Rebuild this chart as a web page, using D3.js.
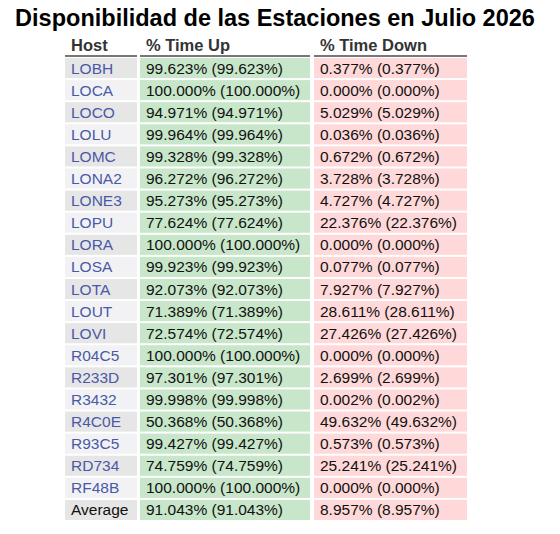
<!DOCTYPE html><html><head><meta charset="utf-8"><script src="https://cdn.jsdelivr.net/npm/d3@7"></script>
<style>body{margin:0;background:#fff}</style></head><body><svg id="c" width="560" height="534"></svg>
<script>
const hosts=["LOBH","LOCA","LOCO","LOLU","LOMC","LONA2","LONE3","LOPU","LORA","LOSA","LOTA","LOUT","LOVI","R04C5","R233D","R3432","R4C0E","R93C5","RD734","RF48B","Average"];
const up=[99.623,100.000,94.971,99.964,99.328,96.272,95.273,77.624,100.000,99.923,92.073,71.389,72.574,100.000,97.301,99.998,50.368,99.427,74.759,100.000,91.043];
const down=[0.377,0.000,5.029,0.036,0.672,3.728,4.727,22.376,0.000,0.077,7.927,28.611,27.426,0.000,2.699,0.002,49.632,0.573,25.241,0.000,8.957];
const headers=["Host","% Time Up","% Time Down"];
const svg=d3.select("#c");const F="Liberation Sans, Arial, sans-serif";
svg.append("text").attr("x",275).attr("y",26).attr("text-anchor","middle").attr("font-family",F).attr("font-weight","bold").attr("font-size",23.5).text("Disponibilidad de las Estaciones en Julio 2026");
const cols=[{x:65,w:72},{x:140,w:170},{x:314,w:153}];
const y=d3.scaleBand().domain(d3.range(hosts.length)).range([58,520]).paddingInner(0.09).paddingOuter(0);
headers.forEach((h,i)=>{svg.append("text").attr("x",cols[i].x+6).attr("y",51).attr("font-family",F).attr("font-weight","bold").attr("font-size",16.5).attr("fill","#333").text(h);
svg.append("rect").attr("x",cols[i].x).attr("y",55).attr("width",cols[i].w).attr("height",2).attr("fill","#777");});
const f=v=>v.toFixed(3)+"% ("+v.toFixed(3)+"%)";
hosts.forEach((h,r)=>{const yy=y(r),bh=y.bandwidth();const last=r===hosts.length-1;
const cells=[[h,r%2===0?"#e6e6e6":"#f2f2f5",last?"#111":"#4a59a6"],[f(up[r]),"#c8e6c9","#111"],[f(down[r]),"#ffd9d9","#111"]];
cells.forEach((c,i)=>{svg.append("rect").attr("x",cols[i].x).attr("y",yy).attr("width",cols[i].w).attr("height",bh).attr("fill",c[1]);
svg.append("text").attr("x",cols[i].x+6).attr("y",yy+bh/2+5.5).attr("font-family",F).attr("font-size",15.5).attr("fill",c[2]).text(c[0]);});});
</script></body></html>
